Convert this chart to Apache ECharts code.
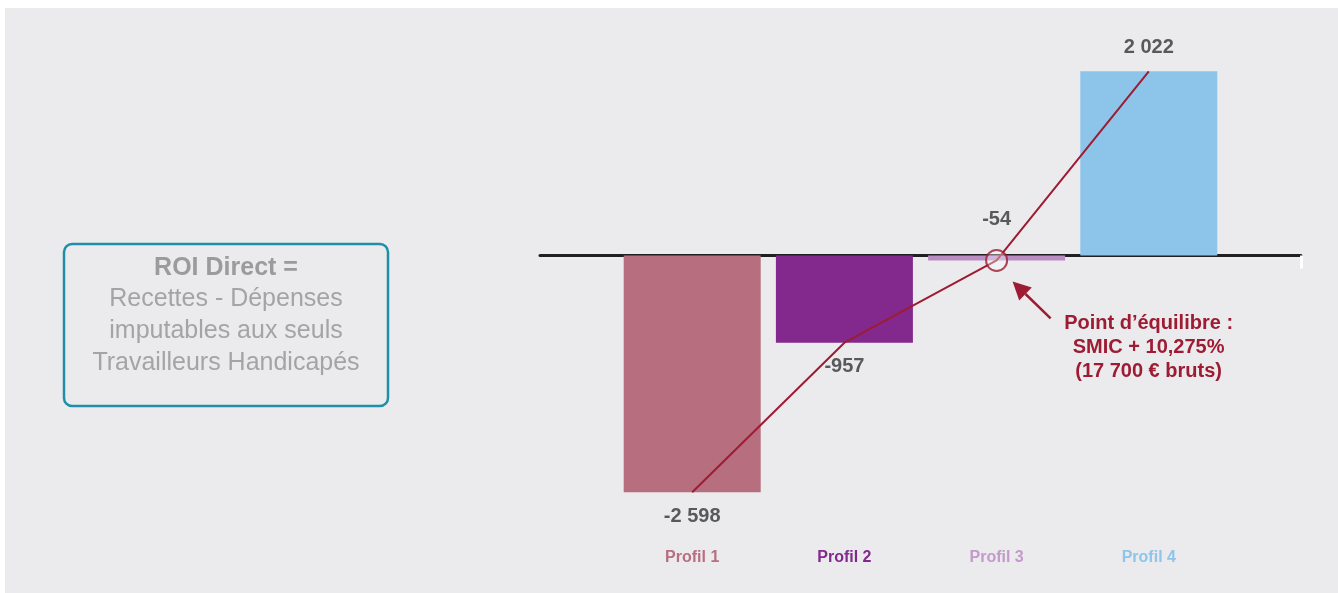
<!DOCTYPE html>
<html>
<head>
<meta charset="utf-8">
<script src="https://cdn.jsdelivr.net/npm/echarts@6/dist/echarts.min.js"></script>
<style>
  html, body { margin: 0; padding: 0; background: #ffffff; }
  #panel { position: absolute; left: 5px; top: 8px; width: 1333px; height: 585px; background: #ebebed; }
  #chart { position: absolute; left: 0; top: 0; width: 1338px; height: 593px; }
</style>
</head>
<body>
<div id="panel"></div>
<div id="chart"></div>
<script>
// Direct ROI per profile (euros), with empty slots at both ends of the axis
const categories = ['', 'Profil 1', 'Profil 2', 'Profil 3', 'Profil 4', ''];
const roiValues = [null, -2598, -957, -54, 2022, null];
const valueLabels = ['', '-2 598', '-957', '-54', '2 022', ''];
const profileColors = ['#000000', '#b76e7e', '#83298d', '#b98dc4', '#8cc4ea', '#000000'];
const labelColors = ['#000000', '#b86e7f', '#83298d', '#c39acb', '#8ec5ea', '#000000'];
const breakEvenPoint = ['Profil 3', -54];
const breakEvenText = ['Point d\u2019équilibre :', 'SMIC + 10,275%', '(17 700 € bruts)'];
const boxTitle = 'ROI Direct =';
const boxLines = ['Recettes - Dépenses', 'imputables aux seuls', 'Travailleurs Handicapés'];

const RED = '#9d1c33';
const FONT = '"Liberation Sans", Arial, sans-serif';

const barData = roiValues.map((v, i) => {
  if (v === null) return null;
  const small = v < 0 && v > -200;
  return {
    value: v,
    itemStyle: { color: profileColors[i] },
    label: {
      show: true,
      formatter: valueLabels[i],
      position: (v >= 0 || small) ? 'top' : 'bottom',
      distance: small ? 26 : 14
    }
  };
});

const chart = echarts.init(document.getElementById('chart'), null, { renderer: 'canvas' });

chart.setOption({
  backgroundColor: 'transparent',
  animation: false,
  grid: { left: 540, right: 37, top: 55.1, bottom: 82.4, containLabel: false },
  xAxis: [
    {
      type: 'category',
      data: categories,
      boundaryGap: false,
      axisLine: { show: true, onZero: true, lineStyle: { color: '#231f20', width: 3 } },
      axisTick: {
        show: true, length: 13, inside: false,
        interval: (idx) => idx === categories.length - 1,
        lineStyle: { color: '#ffffff', width: 3 }
      },
      axisLabel: { show: false },
      splitLine: { show: false }
    },
    {
      type: 'category',
      data: categories,
      boundaryGap: false,
      position: 'bottom',
      axisLine: { show: false, onZero: false },
      axisTick: { show: false },
      axisLabel: {
        show: true,
        interval: 0,
        margin: 39,
        fontFamily: FONT,
        fontWeight: 'bold',
        fontSize: 16,
        color: (val, idx) => labelColors[idx]
      },
      splitLine: { show: false }
    }
  ],
  yAxis: {
    type: 'value',
    min: -2800,
    max: 2200,
    show: false,
    splitLine: { show: false }
  },
  series: [
    {
      type: 'bar',
      xAxisIndex: 0,
      data: barData,
      barWidth: 137,
      z: 1,
      label: {
        fontFamily: FONT,
        fontWeight: 'bold',
        fontSize: 20,
        color: '#58595b'
      }
    },
    {
      type: 'line',
      xAxisIndex: 0,
      data: roiValues,
      symbol: 'none',
      connectNulls: false,
      lineStyle: { color: RED, width: 2 },
      z: 5
    },
    {
      type: 'scatter',
      xAxisIndex: 0,
      data: [breakEvenPoint],
      symbol: 'circle',
      symbolSize: 21,
      itemStyle: { color: 'rgba(255,255,255,0.45)', borderColor: '#9a1a30', borderWidth: 2 },
      z: 6
    }
  ]
});

// Annotation placed relative to the break-even point
const p = chart.convertToPixel({ xAxisIndex: 0, yAxisIndex: 0 }, breakEvenPoint);
const tip = [p[0] + 16, p[1] + 21];
const tail = [p[0] + 54, p[1] + 58];
const ang = Math.atan2(tail[1] - tip[1], tail[0] - tip[0]);
const headLen = 18, headHalf = 9;
const bx = tip[0] + Math.cos(ang) * headLen, by = tip[1] + Math.sin(ang) * headLen;
const nx = -Math.sin(ang), ny = Math.cos(ang);

chart.setOption({
  graphic: [
    {
      type: 'line',
      shape: { x1: bx, y1: by, x2: tail[0], y2: tail[1] },
      style: { stroke: RED, lineWidth: 2.5 },
      z: 10
    },
    {
      type: 'polygon',
      shape: { points: [tip, [bx + nx * headHalf, by + ny * headHalf], [bx - nx * headHalf, by - ny * headHalf]] },
      style: { fill: RED },
      z: 10
    },
    {
      type: 'text',
      x: p[0] + 152,
      y: p[1] + 51,
      style: {
        text: breakEvenText.join('\n'),
        font: 'bold 20px ' + FONT,
        fill: RED,
        align: 'center',
        verticalAlign: 'top',
        lineHeight: 24
      },
      z: 10
    },
    {
      type: 'rect',
      shape: { x: 64, y: 244, width: 324, height: 162, r: 8 },
      style: { fill: 'none', stroke: '#1e8fa6', lineWidth: 2.5 },
      z: 10
    },
    {
      type: 'text',
      x: 226,
      y: 268,
      style: {
        text: boxTitle,
        font: 'bold 25px ' + FONT,
        fill: '#9b9b9d',
        align: 'center',
        verticalAlign: 'middle'
      },
      z: 10
    },
    {
      type: 'text',
      x: 226,
      y: 283,
      style: {
        text: boxLines.join('\n'),
        font: '25px ' + FONT,
        fill: '#a4a4a6',
        align: 'center',
        verticalAlign: 'top',
        lineHeight: 32
      },
      z: 10
    }
  ]
});
</script>
</body>
</html>
